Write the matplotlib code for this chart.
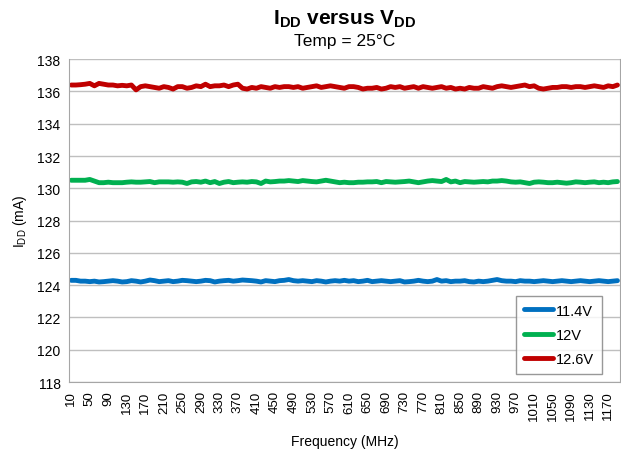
import matplotlib

matplotlib.use("Agg")

import matplotlib.pyplot as plt
import numpy as np

plt.rcParams["font.family"] = ["Liberation Sans", "DejaVu Sans"]

# frequency categories (MHz)
freqs = list(range(10, 1200, 10))

idd_114 = [
    124.30, 124.30, 124.25, 124.25, 124.22, 124.25, 124.20, 124.22, 124.25, 124.28,
    124.25, 124.20, 124.22, 124.28, 124.25, 124.20, 124.25, 124.32, 124.28, 124.22,
    124.25, 124.28, 124.22, 124.25, 124.30, 124.28, 124.25, 124.22, 124.25, 124.30,
    124.28, 124.20, 124.25, 124.28, 124.30, 124.25, 124.28, 124.32, 124.30, 124.28,
    124.25, 124.20, 124.28, 124.25, 124.22, 124.28, 124.30, 124.35, 124.28, 124.25,
    124.28, 124.25, 124.22, 124.28, 124.25, 124.20, 124.25, 124.28, 124.25, 124.30,
    124.25, 124.28, 124.22, 124.25, 124.30, 124.22, 124.25, 124.28, 124.25, 124.22,
    124.25, 124.28, 124.20, 124.22, 124.25, 124.30, 124.25, 124.22, 124.25, 124.35,
    124.25, 124.28, 124.22, 124.25, 124.25, 124.28, 124.22, 124.20, 124.25, 124.22,
    124.25, 124.30, 124.35, 124.28, 124.25, 124.25, 124.22, 124.28, 124.25, 124.25,
    124.22, 124.25, 124.28, 124.25, 124.22, 124.25, 124.28, 124.25, 124.22, 124.25,
    124.28, 124.25, 124.22, 124.25, 124.28, 124.25, 124.22, 124.25, 124.28,
]

idd_12 = [
    130.50, 130.50, 130.50, 130.50, 130.55, 130.45, 130.35, 130.35, 130.38, 130.35,
    130.35, 130.35, 130.38, 130.40, 130.38, 130.38, 130.40, 130.42, 130.35, 130.40,
    130.40, 130.40, 130.38, 130.40, 130.38, 130.30, 130.40, 130.42, 130.38, 130.45,
    130.35, 130.42, 130.30, 130.38, 130.42, 130.35, 130.38, 130.40, 130.38, 130.42,
    130.40, 130.30, 130.45, 130.40, 130.42, 130.45, 130.45, 130.48, 130.45, 130.42,
    130.48, 130.45, 130.42, 130.40, 130.45, 130.50, 130.45, 130.40, 130.35, 130.38,
    130.35, 130.35, 130.38, 130.38, 130.40, 130.40, 130.42, 130.35, 130.42, 130.40,
    130.38, 130.40, 130.42, 130.45, 130.40, 130.35, 130.40, 130.45, 130.48, 130.45,
    130.42, 130.55, 130.40, 130.45, 130.35, 130.42, 130.40, 130.38, 130.40, 130.42,
    130.40, 130.45, 130.45, 130.48, 130.45, 130.40, 130.38, 130.40, 130.35, 130.30,
    130.38, 130.40, 130.38, 130.35, 130.35, 130.38, 130.35, 130.32, 130.35, 130.40,
    130.38, 130.35, 130.38, 130.40, 130.35, 130.38, 130.35, 130.40, 130.42,
]

idd_126 = [
    136.40, 136.40, 136.42, 136.45, 136.50, 136.35, 136.50, 136.45, 136.40, 136.40,
    136.35, 136.38, 136.35, 136.40, 136.10, 136.30, 136.35, 136.30, 136.25, 136.20,
    136.30, 136.25, 136.15, 136.30, 136.30, 136.20, 136.25, 136.35, 136.30, 136.45,
    136.30, 136.35, 136.35, 136.40, 136.30, 136.40, 136.45, 136.20, 136.15, 136.25,
    136.20, 136.30, 136.25, 136.20, 136.30, 136.25, 136.30, 136.30, 136.25, 136.30,
    136.20, 136.25, 136.30, 136.35, 136.25, 136.30, 136.35, 136.30, 136.25, 136.20,
    136.30, 136.30, 136.25, 136.15, 136.20, 136.20, 136.25, 136.15, 136.20, 136.30,
    136.25, 136.30, 136.20, 136.25, 136.30, 136.20, 136.30, 136.25, 136.20, 136.25,
    136.30, 136.20, 136.25, 136.15, 136.20, 136.15, 136.25, 136.20, 136.20, 136.30,
    136.25, 136.20, 136.30, 136.35, 136.30, 136.25, 136.30, 136.35, 136.40, 136.30,
    136.35, 136.20, 136.15, 136.20, 136.25, 136.25, 136.30, 136.30, 136.25, 136.30,
    136.30, 136.25, 136.30, 136.35, 136.30, 136.25, 136.35, 136.30, 136.40,
]

series = [
    ("11.4V", idd_114, "#0070C0"),
    ("12V", idd_12, "#00B050"),
    ("12.6V", idd_126, "#C00000"),
]
y_ticks = list(range(118, 139, 2))

fig = plt.figure(figsize=(6.21, 4.56), dpi=100)
ax = fig.add_axes([0.111, 0.160, 0.887, 0.708])

x = np.arange(len(freqs))
for label, vals, color in series:
    ax.plot(x, vals, color=color, linewidth=3.5, label=label, solid_capstyle="round")

ax.set_xlim(-0.5, len(freqs) - 0.5)
ax.set_ylim(118, 138)
ax.set_yticks(y_ticks)
ax.set_yticklabels([str(v) for v in y_ticks], fontsize=10)
ax.set_xticks(x[::4])
ax.set_xticklabels([str(f) for f in freqs[::4]], rotation=90, fontsize=9.5)
ax.tick_params(length=0, pad=6)
ax.grid(True, axis="y", color="#bfbfbf", linewidth=1)
ax.set_axisbelow(True)
for side in ["left", "bottom", "right"]:
    ax.spines[side].set_color("#a6a6a6")
ax.spines["top"].set_visible(False)

ax.set_xlabel("Frequency (MHz)", fontsize=10, labelpad=10)
ax.set_ylabel("I$_{\\mathregular{DD}}$ (mA)", fontsize=10, labelpad=6)

fig.text(0.555, 0.958, "I$_{\\mathregular{DD}}$ versus V$_{\\mathregular{DD}}$",
         ha="center", va="center", fontsize=15, fontweight="bold")
fig.text(0.555, 0.91, "Temp = 25°C", ha="center", va="center", fontsize=12.5)

leg = ax.legend(loc="lower right", bbox_to_anchor=(0.967, 0.025), fontsize=10.5,
                frameon=True, fancybox=False, handlelength=2.0, handletextpad=0.15,
                borderpad=0.55, labelspacing=0.7, borderaxespad=0)
leg.get_frame().set_edgecolor("#7f7f7f")
leg.get_frame().set_linewidth(1)

fig.savefig("out.png", dpi=100)
